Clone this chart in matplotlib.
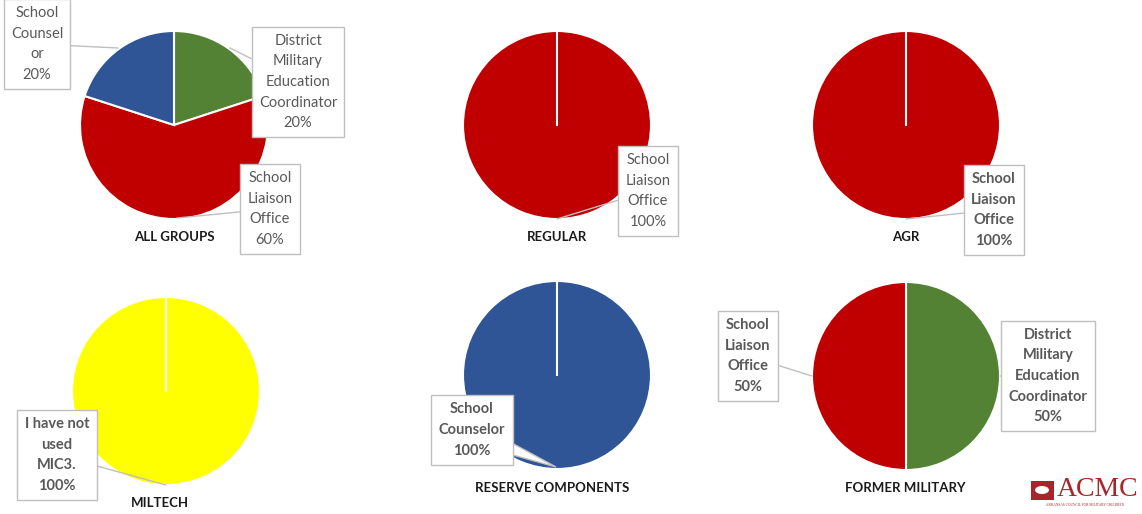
import matplotlib
matplotlib.use("Agg")
import matplotlib.pyplot as plt
import matplotlib.patches as mpatches

W, H = 1142, 514

GREEN = "#548235"
RED = "#C00000"
BLUE = "#2F5597"
YELLOW = "#FFFF00"
TXT = "#595959"
EDGE = "#BFBFBF"

# data
titles = ["ALL GROUPS", "REGULAR", "AGR", "MILTECH", "RESERVE COMPONENTS", "FORMER MILITARY"]
all_labels = ["District\nMilitary\nEducation\nCoordinator", "School\nLiaison\nOffice", "School\nCounsel\nor"]
all_values = [20, 60, 20]
regular_labels = ["School\nLiaison\nOffice"]
regular_values = [100]
agr_labels = ["School\nLiaison\nOffice"]
agr_values = [100]
miltech_labels = ["I have not\nused\nMIC3."]
miltech_values = [100]
reserve_labels = ["School\nCounselor"]
reserve_values = [100]
former_labels = ["District\nMilitary\nEducation\nCoordinator", "School\nLiaison\nOffice"]
former_values = [50, 50]

# layout (pixels): pie centre, title position, colors, label boxes (text pos, anchor on pie), bold labels
layout = [
    dict(c=(174, 125), t=(174, 237), colors=[GREEN, RED, BLUE], bold=False,
         boxes=[((298, 82), (230, 48)), ((270, 209), (177, 218)), ((37, 44), (118, 48))]),
    dict(c=(557, 125), t=(557, 237), colors=[RED], bold=False,
         boxes=[((648, 191), (557, 219))]),
    dict(c=(906, 125), t=(906, 237), colors=[RED], bold=True,
         boxes=[((994, 210), (906, 219))]),
    dict(c=(166, 391), t=(160, 503), colors=[YELLOW], bold=True,
         boxes=[((57, 455), (166, 485))]),
    dict(c=(557, 375), t=(552, 488), colors=[BLUE], bold=True,
         boxes=[((472, 430), None)]),
    dict(c=(906, 376), t=(905, 488), colors=[GREEN, RED], bold=True,
         boxes=[((1048, 376), (1000, 376)), ((748, 356), (812, 376))]),
]
data = [(all_labels, all_values), (regular_labels, regular_values), (agr_labels, agr_values),
        (miltech_labels, miltech_values), (reserve_labels, reserve_values),
        (former_labels, former_values)]

R = 94

fig = plt.figure(figsize=(W / 100, H / 100), dpi=100)
ax = fig.add_axes([0, 0, 1, 1])

for (labels, values), lay, title in zip(data, layout, titles):
    ax.pie(values, colors=lay["colors"], center=lay["c"], radius=R,
           startangle=-90, counterclock=True,
           wedgeprops=dict(edgecolor="white", linewidth=1.5))
    cx, cy = lay["c"]
    if len(values) == 1:
        # full slice still shows its start edge
        ax.plot([cx, cx], [cy, cy - R], color="white", lw=1.5, zorder=2)
    ax.text(lay["t"][0], lay["t"][1], title, ha="center", va="center",
            fontsize=9.5, fontweight="bold", color="#1a1a1a", family="Lato")
    total = sum(values)
    for lab, v, (tpos, anchor) in zip(labels, values, lay["boxes"]):
        s = "%s\n%d%%" % (lab, round(100 * v / total))
        fw = "bold" if lay["bold"] else "normal"
        bb = dict(boxstyle="square,pad=0.5", fc="white", ec=EDGE, lw=1)
        if anchor is None:
            # wedge-style callout pointing at the bottom of the pie
            ax.add_patch(mpatches.Polygon([(tpos[0] + 30, tpos[1] + 22), (cx - 1, cy + R - 2),
                                           (tpos[0] + 38, tpos[1] + 12)],
                                          closed=True, fc="white", ec=EDGE, lw=1, zorder=3))
            ax.text(tpos[0], tpos[1], s, ha="center", va="center", fontsize=10.5,
                    fontweight=fw, color=TXT, family="Lato", bbox=bb, zorder=4,
                    linespacing=1.6)
        else:
            ax.annotate(s, xy=anchor, xytext=tpos, ha="center", va="center",
                        fontsize=10.5, fontweight=fw, color=TXT, family="Lato",
                        bbox=bb, linespacing=1.6, zorder=4,
                        arrowprops=dict(arrowstyle="-", color=EDGE, lw=1,
                                        shrinkA=0, shrinkB=0))

# ACMC logo
ax.add_patch(mpatches.Polygon([(1031, 481), (1054, 481), (1054, 500), (1031, 500)],
                              closed=True, fc="#A8262B", ec="none"))
ax.add_patch(mpatches.Ellipse((1042, 490), 14, 8, fc="white", ec="none"))
ax.text(1098, 490, "ACMC", ha="center", va="center", fontsize=20, color="#A8262B",
        family="Liberation Serif")
ax.text(1085, 505, "ARKANSAS COUNCIL FOR MILITARY CHILDREN", ha="center", va="center",
        fontsize=2.5, color="#A8262B", family="Liberation Serif")

ax.set_xlim(0, W)
ax.set_ylim(H, 0)
ax.set_aspect("auto")
ax.axis("off")

fig.savefig("out.png", dpi=100)
